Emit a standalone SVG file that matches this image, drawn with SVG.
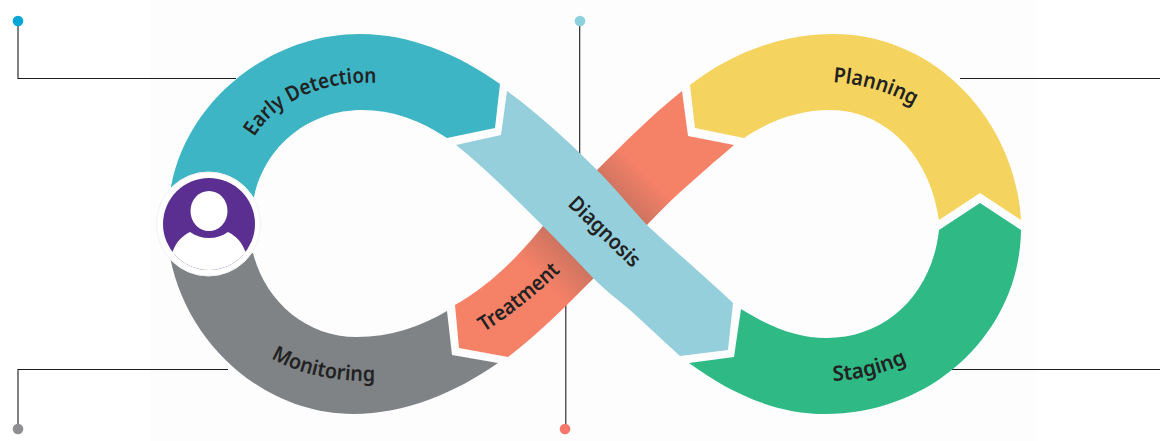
<svg xmlns="http://www.w3.org/2000/svg" width="1160" height="441" viewBox="0 0 1160 441">
<style>
.lead{fill:none;stroke:#1c1c1c;stroke-width:1.100}
.lbl{font-family:"Noto Sans","Open Sans",sans-serif;font-weight:600;font-size:21px;fill:#222}
</style>
<defs>
<linearGradient id="sh" gradientUnits="userSpaceOnUse" x1="520" y1="300" x2="670" y2="150">
<stop offset="0.14" stop-color="#f58167"/><stop offset="0.33" stop-color="#cc7360"/><stop offset="0.66" stop-color="#cc7360"/><stop offset="0.84" stop-color="#f58167"/>
</linearGradient>
<path id="p1" d="M254 137 C277 100 325 80 380 83"/>
<path id="p2" d="M271 358 C300 375 335 382 380 381"/>
<path id="p3" d="M484 332 C511 315 538 294 566 266"/>
<path id="p4" d="M567 205 L634 270"/>
<path id="p5" d="M833 82 C862 84 890 92 918 108"/>
<path id="p6" d="M833 381 C860 380 885 373 911 361"/>
</defs>
<rect width="1160" height="441" fill="#fff"/>
<rect x="150" width="886" height="441" fill="#fdfdfd"/>
<g id="connectors">
<path class="lead" d="M18 21V78.500H236"/>
<path class="lead" d="M18 429V369.500H228"/>
<path class="lead" d="M960 78.500H1160"/>
<path class="lead" d="M952 369.500H1160"/>
<path class="lead" d="M579.700 21V156"/>
<path class="lead" d="M565.800 305V429"/>
<circle cx="18" cy="21" r="5.300" fill="#00a7d6"/>
<circle cx="18" cy="429" r="5.300" fill="#8f8f92"/>
<circle cx="580" cy="21" r="5.300" fill="#8ccfde"/>
<circle cx="565" cy="429" r="5.300" fill="#f9766a"/>
</g>
<g id="treatment">
<path fill="url(#sh)" d="M682 91L688 136L734 145C705 170 675 195 647 225L594 278C565 307 537 335 508 357L459 348L455 305C490 285 517 258 543 226L596 171C625 142 652 115 682 91Z"/>
<text class="lbl" textLength="98" lengthAdjust="spacingAndGlyphs"><textPath href="#p3">Treatment</textPath></text>
</g>
<g id="early-detection">
<path fill="#3db5c4" d="M171 187C187 100 270 34 360 34C410 34 458 54 500 84L495 128L447 138C420 120 392 110 362 110C310 110 265 145 254 197Z"/>
<text class="lbl" textLength="140" lengthAdjust="spacingAndGlyphs"><textPath href="#p1">Early Detection</textPath></text>
</g>
<g id="monitoring">
<path fill="#7f8386" d="M170 257C187 345 265 414 353 414C405 414 455 393 498 363L452 355L447 311C420 327 390 337 357 337C305 337 265 300 253 253Z"/>
<text class="lbl" textLength="108" lengthAdjust="spacingAndGlyphs"><textPath href="#p2">Monitoring</textPath></text>
</g>
<g id="planning">
<path fill="#f4d35e" d="M690 85C733 52 783 34 833 34C935 34 1015 120 1021 220L980 193L939 220C930 155 885 110 830 110C800 110 770 120 744 138L695 128Z"/>
<text class="lbl" textLength="85" lengthAdjust="spacingAndGlyphs"><textPath href="#p5">Planning</textPath></text>
</g>
<g id="staging">
<path fill="#2fb985" d="M980 203L1021 230C1020 330 935 414 825 414C775 414 730 393 689 363L734 357L741 309C770 327 797 338 827 338C885 338 932 295 939 230Z"/>
<text class="lbl" textLength="77" lengthAdjust="spacingAndGlyphs"><textPath href="#p6">Staging</textPath></text>
</g>
<g id="diagnosis">
<path fill="#94cfdb" d="M507 91C540 115 570 143 597 170C615 188 630 207 647 225C668 245 700 272 733 303L728 350L680 356C663 341 647 325 630 310C617 299 605 290 593 278C577 261 560 243 543 226C515 198 485 168 456 145L501 135Z"/>
<text class="lbl" textLength="91" lengthAdjust="spacingAndGlyphs"><textPath href="#p4">Diagnosis</textPath></text>
</g>
<g id="patient">
<circle cx="208.500" cy="224" r="52" fill="#fff" stroke="#f2f2f2" stroke-width="1"/>
<circle cx="209" cy="224" r="46" fill="#5b2f92"/>
<ellipse cx="209" cy="211" rx="18.500" ry="20" fill="#fff"/>
<path fill="#fff" d="M172.500 252C176 242 182 236 190 232C196 236 202 238 209 238C216 238 222 236 228 232C236 236 242 242 245.500 252A46 46 0 0 1 172.500 252Z"/>
</g>
</svg>
